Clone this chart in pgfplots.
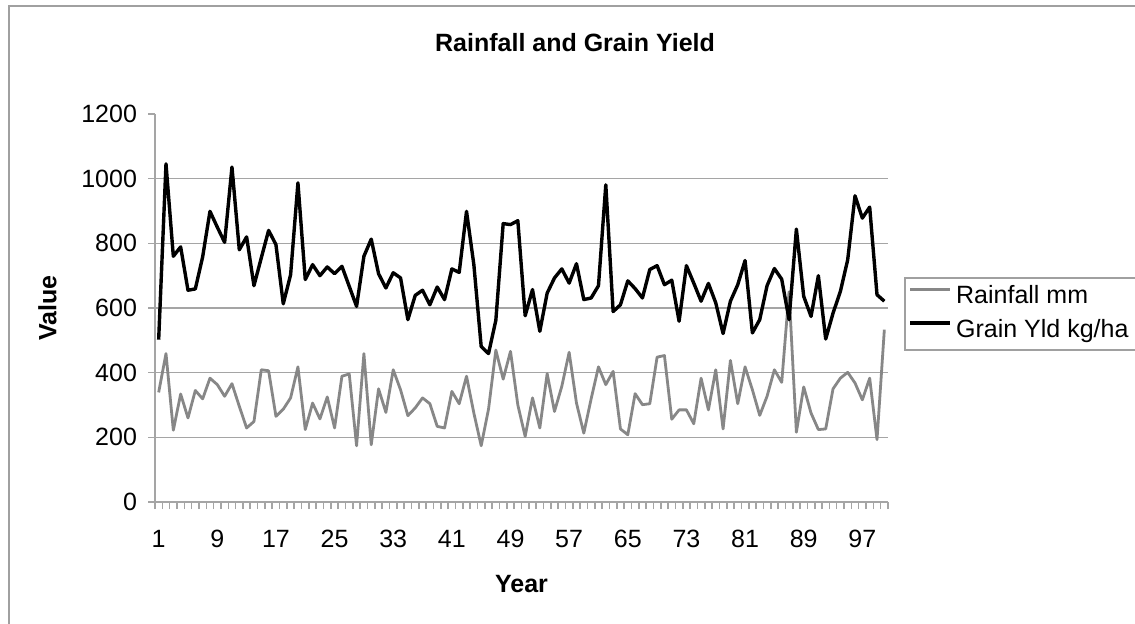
\documentclass[border=0pt]{standalone}
\usepackage{fontspec}
\setmainfont{Liberation Sans}
\usepackage{pgfplots}
\pgfplotsset{compat=1.18}
\definecolor{bordergray}{RGB}{160,160,160}
\definecolor{gridgray}{RGB}{165,165,165}
\definecolor{rfgray}{RGB}{135,135,135}
\begin{document}
\begin{tikzpicture}
\useasboundingbox (0,0) rectangle (567.5pt,311.5pt);
\fill[white] (0,0) rectangle (567.5pt,311.5pt);
\draw[bordergray, line width=0.8pt] (4.5pt,-2pt) -- (4.5pt,308.5pt) -- (572pt,308.5pt);
\begin{axis}[
  at={(77.5pt,60.5pt)}, anchor=south west,
  scale only axis, width=366.5pt, height=194pt,
  xmin=0.5, xmax=100.5, ymin=0, ymax=1200,
  axis x line*=bottom, axis y line*=left,
  x axis line style={-, draw=gridgray, line width=0.8pt},
  y axis line style={-, draw=gridgray, line width=0.8pt},
  xtick={1,9,...,97},
  minor xtick={0.5,1.5,...,100.5},
  ytick={0,200,...,1200},
  extra y ticks={200,400,600,800,1000},
  extra y tick labels={},
  extra y tick style={grid=major},
  major grid style={draw=gridgray, line width=0.8pt},
  tick align=outside,
  major tick length=3.5pt, minor tick length=3.5pt,
  tick style={draw=gridgray, line width=0.8pt},
  major x tick style={draw=none},
  /pgf/number format/assume math mode=true,
  /pgf/number format/1000 sep={},
  tick label style={font=\fontsize{12.5}{15}\selectfont, text=black},
  xticklabel style={anchor=base, yshift=-19pt},
  yticklabel style={xshift=-2pt},
  xlabel={Year}, ylabel={Value},
  xlabel style={font=\bfseries\fontsize{12.5}{15}\selectfont, at={(axis description cs:0.5,-0.232)}, anchor=base},
  ylabel style={font=\bfseries\fontsize{12.5}{15}\selectfont, at={(axis description cs:-0.1467,0.5)}, anchor=center, rotate=0},
  title={Rainfall and Grain Yield},
  title style={font=\bfseries\fontsize{12.5}{15}\selectfont, at={(axis description cs:0.573,1.131)}, anchor=base},
  legend style={at={(axis description cs:1.0218,0.580)}, anchor=north west, draw=bordergray, line width=0.8pt,
    inner xsep=2pt, inner ysep=1pt, row sep=0pt, font=\fontsize{12.5}{15}\selectfont,
    nodes={inner xsep=2pt, inner ysep=2.5pt, text height=9.5pt, text depth=2.5pt}},
  legend cell align=left,
  legend image code/.code={\path (0pt,0pt); \draw[#1] (0pt,3.8pt) -- (20pt,3.8pt);},
]
\addplot[rfgray, line width=1.4pt, line join=round, mark=none] coordinates {
(1,339)(2,459)(3,222)(4,334)(5,260)(6,345)(7,319)(8,383)(9,363)(10,327)
(11,366)(12,296)(13,229)(14,249)(15,409)(16,406)(17,265)(18,287)(19,322)(20,418)
(21,224)(22,306)(23,257)(24,325)(25,229)(26,389)(27,396)(28,174)(29,459)(30,177)
(31,350)(32,277)(33,409)(34,347)(35,267)(36,291)(37,322)(38,304)(39,234)(40,229)
(41,342)(42,304)(43,389)(44,275)(45,174)(46,287)(47,470)(48,380)(49,466)(50,300)
(51,203)(52,322)(53,229)(54,397)(55,280)(56,358)(57,463)(58,306)(59,213)(60,319)
(61,418)(62,363)(63,404)(64,226)(65,208)(66,335)(67,301)(68,304)(69,448)(70,453)
(71,256)(72,285)(73,285)(74,242)(75,383)(76,285)(77,409)(78,226)(79,438)(80,304)
(81,418)(82,347)(83,268)(84,327)(85,409)(86,370)(87,650)(88,216)(89,356)(90,275)
(91,224)(92,226)(93,350)(94,383)(95,401)(96,368)(97,316)(98,383)(99,193)(100,533)
};
\addlegendentry{Rainfall mm}
\addplot[black, line width=1.7pt, line join=round, mark=none] coordinates {
(1,502)(2,1046)(3,760)(4,789)(5,655)(6,659)(7,758)(8,899)(9,850)(10,803)
(11,1036)(12,780)(13,820)(14,669)(15,755)(16,840)(17,796)(18,613)(19,703)(20,987)
(21,688)(22,734)(23,700)(24,727)(25,706)(26,729)(27,667)(28,605)(29,760)(30,813)
(31,706)(32,662)(33,709)(34,693)(35,564)(36,639)(37,655)(38,610)(39,665)(40,626)
(41,721)(42,710)(43,899)(44,734)(45,481)(46,459)(47,562)(48,861)(49,858)(50,870)
(51,576)(52,657)(53,528)(54,646)(55,693)(56,721)(57,677)(58,737)(59,626)(60,631)
(61,669)(62,981)(63,589)(64,610)(65,684)(66,660)(67,631)(68,719)(69,731)(70,672)
(71,686)(72,559)(73,731)(74,677)(75,621)(76,676)(77,616)(78,521)(79,621)(80,672)
(81,747)(82,523)(83,564)(84,669)(85,722)(86,689)(87,564)(88,844)(89,636)(90,574)
(91,700)(92,504)(93,584)(94,651)(95,749)(96,947)(97,878)(98,912)(99,641)(100,621)
};
\addlegendentry{Grain Yld kg/ha\hspace*{8pt}}
\end{axis}
\end{tikzpicture}
\end{document}
